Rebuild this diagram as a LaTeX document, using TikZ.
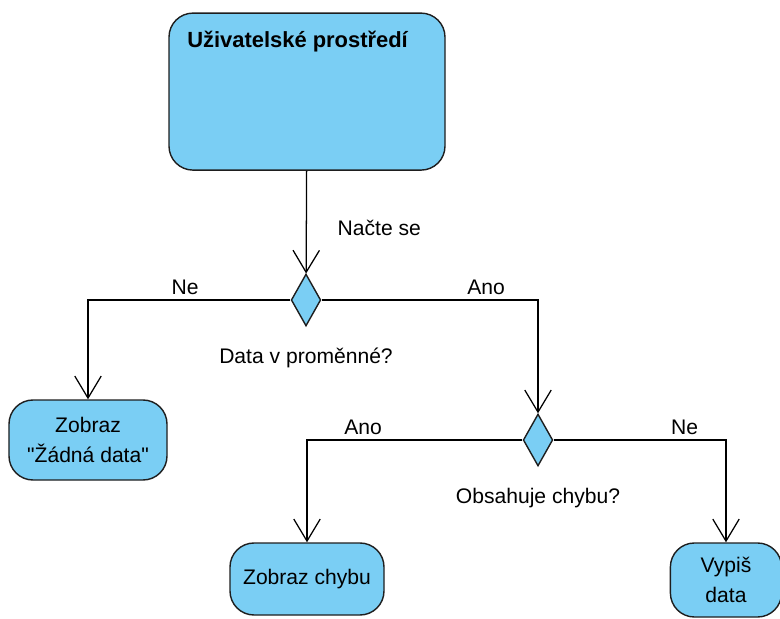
\documentclass[tikz,border=0pt]{standalone}
\usepackage{fontspec}
\setmainfont{Liberation Sans}[Ligatures=TeXOff]
\usetikzlibrary{arrows.meta, positioning, shapes.geometric}

\definecolor{stateblue}{RGB}{122,206,244}
\definecolor{stateedge}{RGB}{30,30,30}

\tikzset{
    state/.style={draw=stateedge, fill=stateblue, line width=1pt,
        rounded corners=0.6cm, align=center, inner sep=0pt},
    decision/.style={diamond, draw=stateedge, fill=stateblue, line width=1pt,
        minimum width=0.74cm, minimum height=1.3cm, inner sep=0pt},
    flow/.style={line width=0.9pt, -{Straight Barb[length=0.55cm, width=0.66cm, line width=0.9pt]}},
    txt/.style={font=\fontsize{15}{21.5}\selectfont}
}

\begin{document}
\begin{tikzpicture}[y=-1cm, txt]
    \useasboundingbox (0, 0) rectangle (19.5, 15.475);

    % stavy
    \node [state, minimum width=6.9cm, minimum height=3.925cm] (prostredi) at (7.675, 2.29) {};
    \node [anchor=west, font=\fontsize{15.6}{18}\selectfont\bfseries]
        (nazev) at ([xshift=0.35cm, yshift=-0.73cm]prostredi.north west) {Uživatelské prostředí};
    \node [state, minimum width=3.95cm, minimum height=2cm] (zadna) at (2.2, 11.0)
        {Zobraz\\"Žádná data"};
    \node [state, minimum width=3.85cm, minimum height=1.8cm] (zobrchyba) at (7.675, 14.475)
        {Zobraz chybu};
    \node [state, minimum width=2.78cm, minimum height=1.85cm] (vypis) at (18.15, 14.5)
        {Vypiš\\data};

    % rozhodnuti
    \node [decision] (data) at (7.65, 7.5) {};
    \node [decision] (chyba) at (13.45, 11.0) {};
    \node [below=0.42cm of data] (datatxt) {Data v proměnné?};
    \node [below=0.42cm of chyba] (chybatxt) {Obsahuje chybu?};

    % prechody
    \draw [flow] 
        (prostredi) -- (data) node [pos=0.56, right, xshift=0.65cm] {Načte se}
    ;
    \draw [flow] 
        (data.west) -| (zadna.north) node [pos=0.26, above] {Ne}
    ;
    \draw [flow] 
        (data.east) -| (chyba.north) node [pos=0.38, above] {Ano}
    ;
    \draw [flow] 
        (chyba.west) -| (zobrchyba.north) node [pos=0.37, above] {Ano}
    ;
    \draw [flow] 
        (chyba.east) -| (vypis.north) node [pos=0.38, above] {Ne}
    ;
\end{tikzpicture}
\end{document}
